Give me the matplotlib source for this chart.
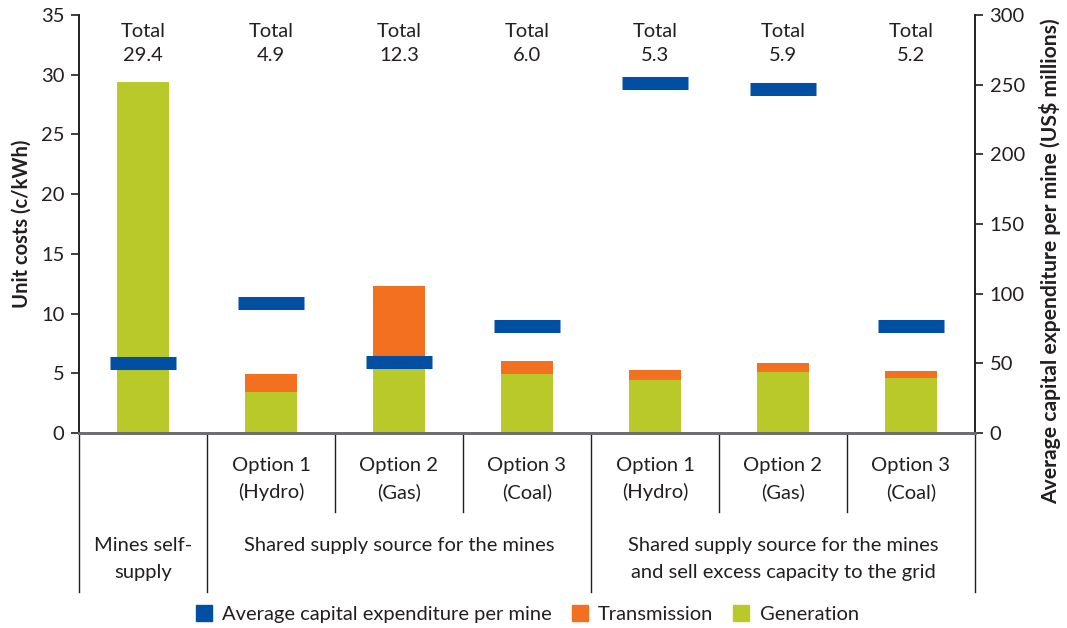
import matplotlib
matplotlib.use('Agg')
import matplotlib.pyplot as plt
from matplotlib.patches import Patch

# ---- data ----
option_labels = ['', 'Option 1\n(Hydro)', 'Option 2\n(Gas)', 'Option 3\n(Coal)',
                 'Option 1\n(Hydro)', 'Option 2\n(Gas)', 'Option 3\n(Coal)']
generation = [29.4, 3.4, 5.5, 4.9, 4.4, 5.1, 4.6]
transmission = [0.0, 1.5, 6.8, 1.1, 0.9, 0.8, 0.6]
totals = [29.4, 4.9, 12.3, 6.0, 5.3, 5.9, 5.2]
capex = [50, 93, 51, 77, 251, 247, 77]
group_labels = ['Mines self-\nsupply', 'Shared supply source for the mines',
                'Shared supply source for the mines\nand sell excess capacity to the grid']
group_spans = [(-0.5, 0.5), (0.5, 3.5), (3.5, 6.5)]
left_ticks = list(range(0, 36, 5))
right_ticks = list(range(0, 301, 50))

GREEN = '#B9C92A'
ORANGE = '#F37021'
BLUE = '#004FA3'
TXT = '#231F20'

plt.rcParams['font.family'] = ['Lato', 'DejaVu Sans']
FS = 14.5

fig = plt.figure(figsize=(10.67, 6.28), dpi=100)
ax = fig.add_axes([79/1067, 1-433/628, (975-79)/1067, (433-15)/628])
ax2 = ax.twinx()

x = list(range(len(generation)))
ax.bar(x, generation, width=0.40, color=GREEN, zorder=2)
ax.bar(x, transmission, width=0.40, bottom=generation, color=ORANGE, zorder=2)

ax.set_xlim(-0.5, 6.5)
ax.set_ylim(0, 35)
ax2.set_ylim(0, 300)
ax.set_yticks(left_ticks)
ax2.set_yticks(right_ticks)
ax.set_xticks([])

for i, c in enumerate(capex):
    ax2.hlines(c, i - 0.26, i + 0.26, colors=BLUE, linewidth=9.4, capstyle='butt', zorder=3)

for a in (ax, ax2):
    a.spines['top'].set_visible(False)
    a.spines['bottom'].set_color('#6D6E71')
    a.spines['bottom'].set_linewidth(2)
    a.spines['left'].set_color(TXT)
    a.spines['right'].set_color(TXT)
    a.spines['left'].set_linewidth(1.2)
    a.spines['right'].set_linewidth(1.2)
    a.tick_params(axis='y', direction='out', length=5.5, width=1.2, color=TXT,
                  labelsize=FS, labelcolor=TXT, pad=5)

ax.set_ylabel('Unit costs (c/kWh)', fontsize=FS, fontweight='bold', color=TXT, labelpad=7)
fig.text(1050/1067, 1-261/628, 'Average capital expenditure per mine (US$ millions)',
         rotation=90, ha='center', va='center', fontsize=15.2, fontweight='bold', color=TXT)

tr = ax.get_xaxis_transform()
# total labels
for i, t in enumerate(totals):
    ax.text(i, 0.9617, 'Total', transform=tr, ha='center', va='center', fontsize=FS, color=TXT)
    ax.text(i, 0.9043, f'{t:.1f}', transform=tr, ha='center', va='center', fontsize=FS, color=TXT)

# separators below the axis
long_seps = [-0.5, 0.5, 3.5, 6.5]
short_seps = [1.5, 2.5, 4.5, 5.5]
for s in long_seps:
    ax.plot([s, s], [0, -0.380], transform=tr, color=TXT, lw=1.0, clip_on=False)
for s in short_seps:
    ax.plot([s, s], [0, -0.189], transform=tr, color=TXT, lw=1.0, clip_on=False)

def place_lines(xc, label, ys):
    for line, yy in zip(label.split('\n'), ys):
        ax.text(xc, yy, line, transform=tr, ha='center', va='center', fontsize=FS, color=TXT)

for i, lab in enumerate(option_labels):
    if lab:
        place_lines(i, lab, [-0.0789, -0.1411])

for (a, b), lab in zip(group_spans, group_labels):
    place_lines((a + b) / 2, lab, [-0.2703, -0.3349])

handles = [Patch(color=BLUE), Patch(color=ORANGE), Patch(color=GREEN)]
labels = ['Average capital expenditure per mine', 'Transmission', 'Generation']
fig.legend(handles, labels, loc='center', bbox_to_anchor=(0.494, 1-614/628), ncol=3,
           frameon=False, fontsize=FS, handlelength=0.8, handleheight=0.8,
           handletextpad=0.5, columnspacing=1.0, labelcolor=TXT)

fig.savefig('out.png', dpi=100)
